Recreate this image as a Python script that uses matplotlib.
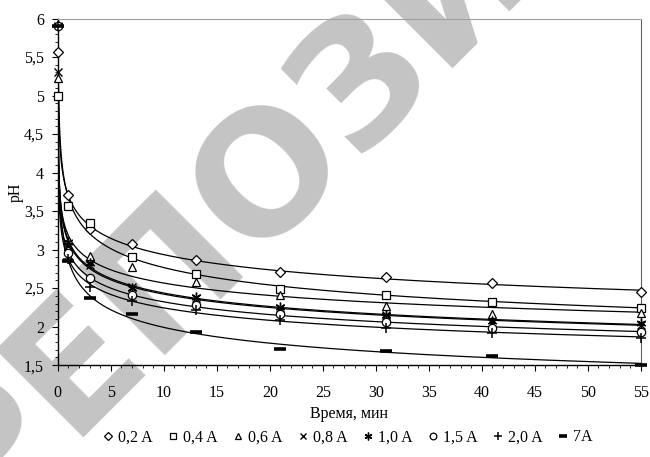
import numpy as np
import matplotlib
matplotlib.use("Agg")
import matplotlib.pyplot as plt
from matplotlib.ticker import MultipleLocator, FuncFormatter
from matplotlib.lines import Line2D

# ---- data ----
time_min = [0, 1, 3, 7, 13, 21, 31, 41, 55]
series_labels = ["0,2 A", "0,4 A", "0,6 A", "0,8 A", "1,0 A", "1,5 A", "2,0 A", "7A"]
ph_02 = [5.57, 3.71, 3.27, 3.07, 2.86, 2.71, 2.64, 2.56, 2.45]
ph_04 = [5.00, 3.56, 3.35, 2.90, 2.68, 2.49, 2.41, 2.32, 2.24]
ph_06 = [5.23, 3.05, 2.92, 2.77, 2.58, 2.41, 2.27, 2.17, 2.18]
ph_08 = [5.31, 3.05, 2.80, 2.52, 2.37, 2.24, 2.15, 2.05, 2.02]
ph_10 = [5.92, 3.10, 2.82, 2.50, 2.38, 2.25, 2.15, 2.07, 2.05]
ph_15 = [5.90, 2.96, 2.63, 2.41, 2.28, 2.16, 2.06, 1.98, 1.93]
ph_20 = [5.90, 2.88, 2.52, 2.33, 2.22, 2.09, 1.98, 1.92, 1.85]
ph_7 = [5.90, 2.85, 2.37, 2.16, 1.93, 1.71, 1.69, 1.62, 1.50]
all_series = [ph_02, ph_04, ph_06, ph_08, ph_10, ph_15, ph_20, ph_7]
x_ticks = list(range(0, 60, 5))
y_ticks = [1.5, 2, 2.5, 3, 3.5, 4, 4.5, 5, 5.5, 6]

markers = ["D", "s", "^", "x", (6, 2, 0), "o", "+", "_"]
msizes = [5, 5.5, 6, 6, 7, 6, 7, 8]
mews = [0.9, 0.9, 0.9, 1.0, 1.0, 0.9, 1.1, 2.6]

serif = ["Liberation Serif", "DejaVu Serif"]
plt.rcParams["font.family"] = serif

fig = plt.figure(figsize=(6.5, 4.57), dpi=100)
# watermark behind the chart
fig.text(0.712, 1.05, "РЕПОЗИТОРИЙ", rotation=45, rotation_mode="anchor",
         ha="center", va="center", fontsize=122, fontweight="bold",
         family="DejaVu Sans", color="#c4c4c4", zorder=-5)

ax = fig.add_axes([0.089, 0.201, 0.897, 0.7585])
ax.patch.set_alpha(0)

t = np.array(time_min, dtype=float)
tt = np.concatenate([np.logspace(-4, 0, 300), np.linspace(1, 55, 300)])
for ys, m, ms, mw in zip(all_series, markers, msizes, mews):
    y = np.array(ys)
    pos = t > 0
    b, a = np.polyfit(np.log(t[pos]), np.log(y[pos]), 1)
    ax.plot(tt, np.exp(a) * tt ** b, color="black", lw=0.9, zorder=2)
    ax.plot(t, y, linestyle="none", marker=m, markersize=ms,
            markerfacecolor="white", markeredgecolor="black",
            markeredgewidth=mw, zorder=3, clip_on=False)

ax.set_xlim(0, 55)
ax.set_ylim(1.5, 6)
ax.set_xticks(x_ticks)
ax.set_yticks(y_ticks)
ax.xaxis.set_minor_locator(MultipleLocator(1))
ax.yaxis.set_minor_locator(MultipleLocator(0.1))
fmt = FuncFormatter(lambda v, p: ("%g" % v).replace(".", ","))
ax.yaxis.set_major_formatter(fmt)
ax.xaxis.set_major_formatter(fmt)
ax.tick_params(which="major", direction="out", length=4, width=0.8, labelsize=11.5)
ax.tick_params(axis="x", which="major", pad=10)
ax.tick_params(axis="y", which="major", pad=6)
ax.tick_params(which="minor", direction="out", length=2.5, width=0.6)
ax.spines["top"].set_color("#a0a0a0")
ax.spines["right"].set_color("#606060")
for s in ["left", "bottom"]:
    ax.spines[s].set_linewidth(1.0)

ax.set_xlabel("Время, мин", fontsize=11.5, labelpad=4)
ax.set_ylabel("pH", fontsize=11.5, labelpad=0)

handles = [Line2D([], [], linestyle="none", marker=m, markersize=ms * 0.8,
                  markerfacecolor="white", markeredgecolor="black",
                  markeredgewidth=mw)
           for m, ms, mw in zip(markers, msizes, mews)]
fig.legend(handles, series_labels, loc="center", bbox_to_anchor=(0.535, 0.043),
           ncol=8, frameon=False, fontsize=11.5, handlelength=0.6,
           handletextpad=0.3, columnspacing=1.0, borderpad=0)

fig.savefig("out.png", dpi=100)
